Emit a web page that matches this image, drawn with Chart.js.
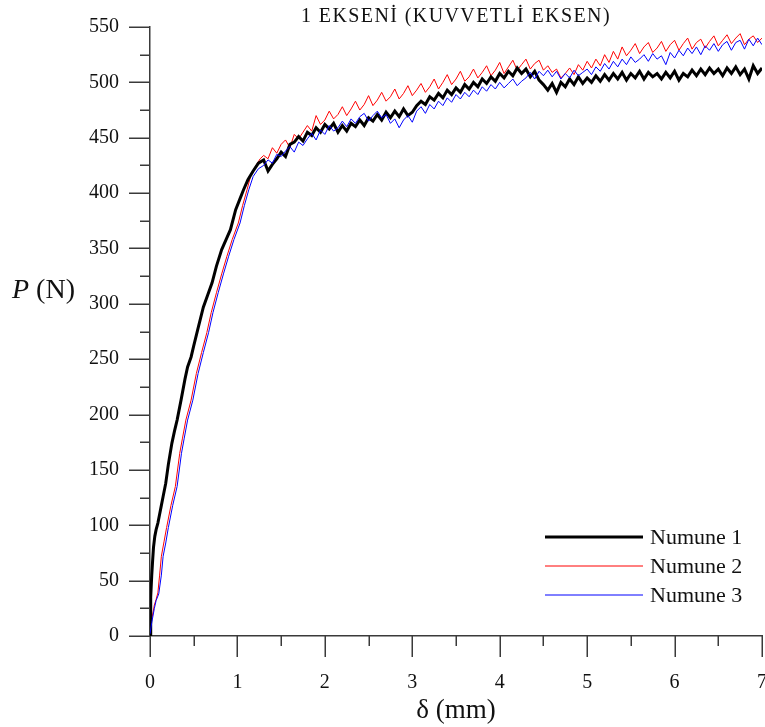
<!DOCTYPE html>
<html><head><meta charset="utf-8">
<script src="https://cdn.jsdelivr.net/npm/chart.js@4.4.0/dist/chart.umd.min.js"></script>
<style>
html,body{margin:0;padding:0;background:#fff;overflow:hidden;width:765px;height:727px}
#wrap{position:relative;width:765px;height:727px;overflow:hidden}
canvas{display:block}
</style></head><body><div id="wrap"><canvas id="c" width="781" height="727"></canvas></div>
<script>
const seriesNames = ['Numune 1', 'Numune 2', 'Numune 3'];
const seriesColors = ['#000000', '#ff0000', '#0000ff'];
const chartTitle = '1 EKSENİ (KUVVETLİ EKSEN)';
const xTitle = 'δ (mm)';
const yTitleItalic = 'P';
const yTitleRest = ' (N)';
const yTickLabels = [0, 50, 100, 150, 200, 250, 300, 350, 400, 450, 500, 550];
const xTickLabels = [0, 1, 2, 3, 4, 5, 6, 7];

// rising part (delta in mm, load in N)
const riseDelta1 = [0, 0.005, 0.011, 0.02, 0.03, 0.04, 0.055, 0.07, 0.09, 0.11, 0.13, 0.15, 0.18, 0.21, 0.25, 0.28, 0.31, 0.355, 0.40, 0.43, 0.47, 0.50, 0.55, 0.61, 0.66, 0.71, 0.76, 0.82, 0.87, 0.92, 0.98, 1.03, 1.07, 1.12, 1.18, 1.24];
const riseLoad1  = [0, 20, 35, 55, 68, 80, 90, 96, 102, 110, 118, 126, 138, 155, 174, 185, 195, 213, 232, 243, 252, 262, 278, 297, 308, 319, 334, 349, 358, 367, 385, 395, 403, 412, 420, 427];
const riseDelta2 = [0, 0.02, 0.05, 0.07, 0.09, 0.11, 0.13, 0.16, 0.19, 0.24, 0.29, 0.34, 0.37, 0.41, 0.47, 0.53, 0.59, 0.65, 0.70, 0.76, 0.82, 0.88, 0.94, 1.01, 1.06, 1.11, 1.16, 1.22, 1.26];
const riseLoad2  = [3, 15, 28, 33, 39, 55, 72, 85, 98, 118, 135, 165, 178, 195, 213, 237, 256, 274, 292, 310, 327, 343, 358, 373, 389, 403, 418, 426, 431];
const riseDelta3 = [0, 0.02, 0.05, 0.07, 0.10, 0.13, 0.15, 0.18, 0.21, 0.26, 0.31, 0.36, 0.39, 0.43, 0.49, 0.55, 0.61, 0.67, 0.72, 0.78, 0.84, 0.90, 0.96, 1.03, 1.08, 1.13, 1.18, 1.24];
const riseLoad3  = [2, 12, 25, 32, 38, 55, 72, 84, 98, 118, 135, 165, 178, 195, 213, 237, 256, 274, 292, 310, 327, 343, 358, 373, 389, 403, 415, 422];

// plateau part (shared delta samples)
const plateauDelta = [1.30, 1.35, 1.40, 1.45, 1.50, 1.55, 1.60, 1.65, 1.70, 1.75, 1.80, 1.85, 1.90, 1.95, 2.00, 2.05, 2.10, 2.15, 2.20, 2.25, 2.30, 2.35, 2.40, 2.45, 2.50, 2.55, 2.60, 2.65, 2.70, 2.75, 2.80, 2.85, 2.90, 2.95, 3.00, 3.05, 3.10, 3.15, 3.20, 3.25, 3.30, 3.35, 3.40, 3.45, 3.50, 3.55, 3.60, 3.65, 3.70, 3.75, 3.80, 3.85, 3.90, 3.95, 4.00, 4.05, 4.10, 4.15, 4.20, 4.25, 4.30, 4.35, 4.40, 4.45, 4.50, 4.55, 4.60, 4.65, 4.70, 4.75, 4.80, 4.85, 4.90, 4.95, 5.00, 5.05, 5.10, 5.15, 5.20, 5.25, 5.30, 5.35, 5.40, 5.45, 5.50, 5.55, 5.60, 5.65, 5.70, 5.75, 5.80, 5.85, 5.90, 5.95, 6.00, 6.05, 6.10, 6.15, 6.20, 6.25, 6.30, 6.35, 6.40, 6.45, 6.50, 6.55, 6.60, 6.65, 6.70, 6.75, 6.80, 6.85, 6.90, 6.95, 7.00];
const plateauLoad1 = [430, 420, 426, 431, 437, 433, 444, 446, 451, 447, 455, 452, 459, 455, 462, 458, 463, 455, 461, 456, 463, 460, 466, 461, 468, 465, 471, 466, 473, 468, 474, 469, 476, 470, 473, 479, 483, 480, 487, 484, 490, 486, 493, 489, 495, 491, 498, 494, 500, 496, 503, 499, 505, 501, 508, 504, 510, 506, 513, 508, 512, 505, 510, 502, 498, 493, 499, 491, 500, 496, 503, 498, 505, 499, 504, 500, 506, 501, 507, 502, 508, 503, 509, 502, 508, 504, 510, 503, 509, 505, 508, 503, 509, 504, 510, 502, 508, 505, 511, 506, 512, 507, 513, 508, 512, 506, 513, 508, 514, 507, 512, 503, 515, 508, 513];
const plateauLoad2 = [434, 431, 441, 436, 444, 448, 441, 453, 449, 455, 461, 456, 470, 462, 466, 474, 467, 471, 478, 470, 476, 483, 475, 480, 488, 479, 484, 491, 483, 487, 494, 485, 490, 497, 488, 493, 499, 491, 496, 503, 494, 500, 507, 498, 503, 510, 501, 505, 512, 504, 509, 515, 506, 511, 518, 508, 514, 520, 511, 516, 521, 512, 517, 520, 511, 515, 509, 512, 504, 508, 513, 507, 516, 511, 519, 513, 521, 515, 525, 518, 528, 521, 532, 524, 529, 535, 526, 532, 536, 527, 531, 537, 528, 534, 538, 529, 535, 540, 530, 536, 539, 531, 537, 542, 533, 538, 543, 535, 540, 544, 534, 539, 542, 536, 540];
const plateauLoad3 = [425, 430, 427, 435, 433, 438, 442, 437, 446, 443, 449, 454, 448, 457, 453, 461, 456, 459, 465, 460, 467, 463, 469, 472, 465, 470, 474, 468, 471, 463, 467, 459, 466, 470, 464, 474, 478, 472, 480, 476, 483, 479, 486, 482, 489, 485, 491, 487, 493, 489, 496, 492, 498, 494, 500, 495, 499, 503, 497, 501, 504, 509, 503, 510, 506, 511, 505, 510, 503, 508, 504, 511, 506, 509, 512, 507, 514, 510, 517, 512, 519, 514, 521, 516, 523, 518, 521, 525, 519, 526, 521, 524, 516, 527, 522, 529, 524, 531, 526, 532, 525, 533, 529, 535, 528, 534, 537, 529, 536, 538, 530, 539, 533, 540, 534];

function toPoints(dx, py) { return dx.map((d, i) => ({ x: d, y: py[i] })); }
const pts1 = toPoints(riseDelta1, riseLoad1).concat(toPoints(plateauDelta, plateauLoad1));
const pts2 = toPoints(riseDelta2, riseLoad2).concat(toPoints(plateauDelta, plateauLoad2));
const pts3 = toPoints(riseDelta3, riseLoad3).concat(toPoints(plateauDelta, plateauLoad3));

const SERIF = '"Liberation Serif", "Times New Roman", serif';
const AXIS_COLOR = '#3a3a3a';

const ticksPlugin = {
  id: 'customTicks',
  afterDraw(chart) {
    const ctx = chart.ctx, xs = chart.scales.x, ys = chart.scales.y;
    const a = chart.chartArea;
    ctx.save();
    ctx.strokeStyle = AXIS_COLOR;
    ctx.lineWidth = 1.5;
    xs.ticks.forEach(t => {
      const px = Math.round(xs.getPixelForValue(t.value)) + 0.25;
      const major = xTickLabels.some(v => Math.abs(v - t.value) < 1e-6);
      ctx.beginPath();
      ctx.moveTo(px, a.bottom);
      ctx.lineTo(px, a.bottom + (major ? 21 : 10));
      ctx.stroke();
    });
    ys.ticks.forEach(t => {
      const py = Math.round(ys.getPixelForValue(t.value)) + 0.25;
      const major = yTickLabels.some(v => Math.abs(v - t.value) < 1e-6);
      ctx.beginPath();
      ctx.moveTo(a.left, py);
      ctx.lineTo(a.left - (major ? 21 : 10), py);
      ctx.stroke();
    });
    // title
    ctx.fillStyle = '#111';
    ctx.font = '20px ' + SERIF;
    ctx.textAlign = 'center';
    ctx.textBaseline = 'middle';
    try { ctx.letterSpacing = '1.4px'; } catch (e) {}
    ctx.fillText(chartTitle, (a.left + a.right) / 2, 17);
    try { ctx.letterSpacing = '0px'; } catch (e) {}
    // y title
    ctx.textAlign = 'left';
    ctx.textBaseline = 'alphabetic';
    ctx.font = 'italic 28px ' + SERIF;
    ctx.fillText(yTitleItalic, 12, 298);
    const w = ctx.measureText(yTitleItalic).width;
    ctx.font = '28px ' + SERIF;
    ctx.fillText(yTitleRest, 12 + w, 298);
    // legend
    const legendY = [537, 566, 595];
    ctx.font = '22px ' + SERIF;
    ctx.textBaseline = 'middle';
    chart.data.datasets.forEach((ds, i) => {
      ctx.strokeStyle = ds.borderColor;
      ctx.lineWidth = ds.borderWidth;
      ctx.beginPath();
      ctx.moveTo(545, legendY[i]);
      ctx.lineTo(643, legendY[i]);
      ctx.stroke();
      ctx.fillStyle = '#111';
      ctx.fillText(ds.label, 650, legendY[i] + 1);
    });
    ctx.restore();
  }
};

new Chart(document.getElementById('c'), {
  type: 'scatter',
  data: {
    datasets: [
      { label: seriesNames[0], data: pts1, borderColor: seriesColors[0], backgroundColor: seriesColors[0], borderWidth: 3, showLine: true, pointRadius: 0, tension: 0, order: 1 },
      { label: seriesNames[1], data: pts2, borderColor: seriesColors[1], backgroundColor: seriesColors[1], borderWidth: 1, showLine: true, pointRadius: 0, tension: 0, order: 2 },
      { label: seriesNames[2], data: pts3, borderColor: seriesColors[2], backgroundColor: seriesColors[2], borderWidth: 1, showLine: true, pointRadius: 0, tension: 0, order: 0 }
    ]
  },
  options: {
    responsive: false,
    animation: false,
    devicePixelRatio: 1,
    layout: { padding: { top: 27, right: 0, left: 0, bottom: 0 } },
    plugins: { legend: { display: false }, tooltip: { enabled: false }, title: { display: false } },
    scales: {
      x: {
        type: 'linear', min: 0, max: 7,
        afterFit(s) { s.height = 91; },
        grid: { display: true, drawOnChartArea: false, drawTicks: true, tickLength: 21, tickColor: 'rgba(0,0,0,0)' },
        border: { display: true, color: AXIS_COLOR, width: 1.5 },
        ticks: { stepSize: 0.5, autoSkip: false, maxRotation: 0, padding: 14, color: '#111', font: { family: SERIF, size: 20 },
          callback: (v) => xTickLabels.some(t => Math.abs(t - v) < 1e-6) ? String(Math.round(v)) : '' },
        title: { display: true, text: xTitle, color: '#111', font: { family: SERIF, size: 27 }, padding: { top: 2, bottom: 0 } }
      },
      y: {
        type: 'linear', min: 0, max: 550,
        afterFit(s) { s.width = 150; },
        grid: { display: true, drawOnChartArea: false, drawTicks: true, tickLength: 21, tickColor: 'rgba(0,0,0,0)' },
        border: { display: true, color: AXIS_COLOR, width: 1.5 },
        ticks: { stepSize: 25, autoSkip: false, padding: 10, color: '#111', font: { family: SERIF, size: 20 },
          callback: (v) => yTickLabels.some(t => Math.abs(t - v) < 1e-6) ? String(v) : '' }
      }
    }
  },
  plugins: [ticksPlugin]
});
</script>
</body></html>
